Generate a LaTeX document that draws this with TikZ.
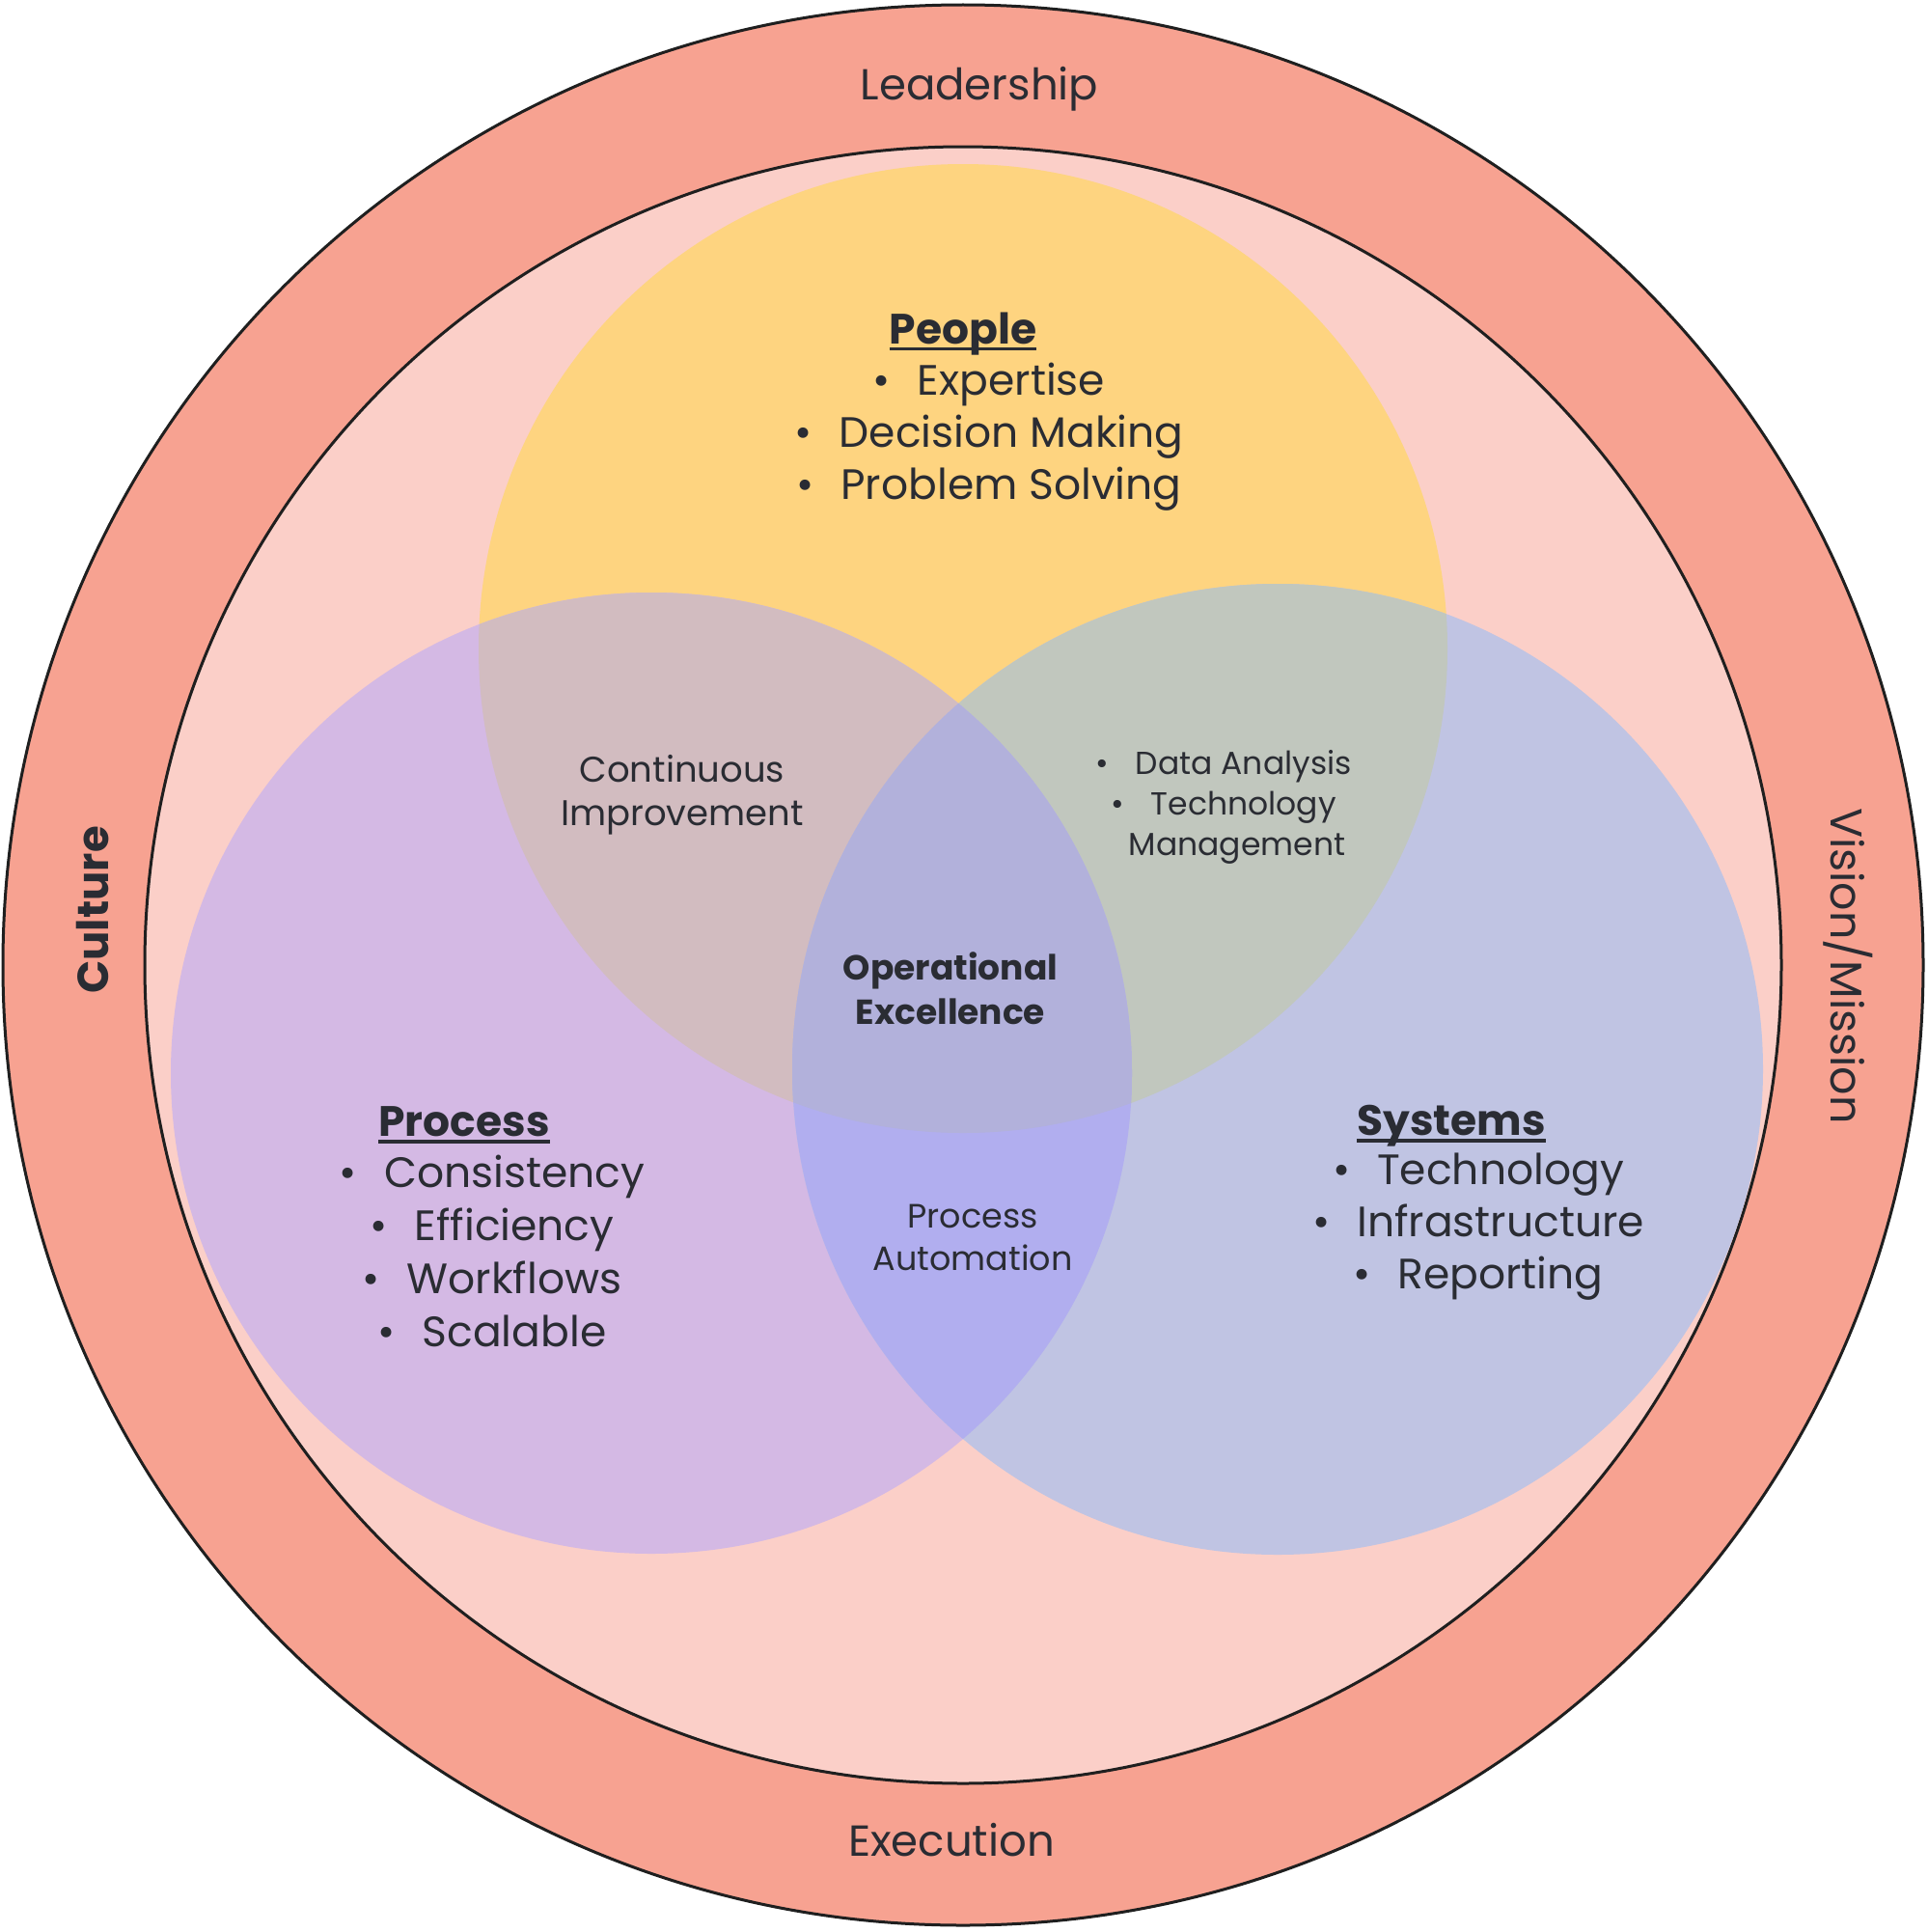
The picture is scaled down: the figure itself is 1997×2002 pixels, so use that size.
\documentclass[tikz,border=0pt]{standalone}
\usepackage{fontspec}
\setmainfont{Poppins}
\definecolor{ringc}{HTML}{F7A291}
\definecolor{innerc}{HTML}{FBCFC8}
\definecolor{peoplec}{HTML}{FED480}
\definecolor{processc}{HTML}{D4B9E4}
\definecolor{systemsc}{HTML}{C0C4E3}
\definecolor{ppc}{HTML}{D2BCC0}
\definecolor{psc}{HTML}{C1C7BE}
\definecolor{rsc}{HTML}{B1AEEF}
\definecolor{allc}{HTML}{B2B1DB}
\definecolor{ink}{HTML}{2A2C33}
\newcommand\ultitle[1]{\setbox0\hbox{#1}\rlap{\rule[-7pt]{\wd0}{3.5pt}}\box0}
\newcommand\bul{\textbullet\hspace{28pt}}
\tikzset{
  txt/.style={text=ink, inner sep=0pt, align=center},
  ringtxt/.style={txt, font=\fontsize{45}{54}\selectfont},
  bigtxt/.style={txt, font=\fontsize{44}{54}\selectfont},
  titletxt/.style={txt, font=\fontsize{44}{54}\selectfont\bfseries},
  midtxt/.style={txt, font=\fontsize{37}{45}\selectfont},
  smalltxt/.style={txt, font=\fontsize{33}{42}\selectfont},
  ring/.style={line width=3pt, draw=black!88}
}
\begin{document}
\begin{tikzpicture}[x=1pt,y=-1pt]
\useasboundingbox (0,0) rectangle (1997,2002);
\coordinate (c0) at (998,1000);
\coordinate (cP) at (998,672);
\coordinate (cR) at (675,1112);
\coordinate (cS) at (1324,1108);
% rings
\fill[ringc] (c0) circle (995pt);
\draw[ring] (c0) circle (995pt);
\fill[innerc] (c0) circle (848pt);
\draw[ring] (c0) circle (848pt);
% venn circles
\fill[peoplec] (cP) circle (502pt);
\fill[processc] (cR) circle (498pt);
\fill[systemsc] (cS) circle (503pt);
\begin{scope}
  \clip (cP) circle (502pt);
  \fill[ppc] (cR) circle (498pt);
  \fill[psc] (cS) circle (503pt);
\end{scope}
\begin{scope}
  \clip (cR) circle (498pt);
  \fill[rsc] (cS) circle (503pt);
\end{scope}
\begin{scope}
  \clip (cP) circle (502pt);
  \clip (cR) circle (498pt);
  \fill[allc] (cS) circle (503pt);
\end{scope}
% ring labels
\node[ringtxt] (lead) at (1015,92) {Leadership};
\node[ringtxt] (exec) at (986,1907) {Execution};
\node[ringtxt, font=\fontsize{45}{54}\selectfont\bfseries, rotate=90] (cult) at (96,943) {Culture};
\node[ringtxt, font=\fontsize{46}{54}\selectfont, rotate=-90] (vis) at (1915,1001) {Vision/Mission};
% People
\node[titletxt] (peopleT) at (998,346) {\ultitle{People}};
\node[bigtxt, anchor=north] (peopleL) at (1025,376) {\bul Expertise\\ \bul Decision Making\\ \bul Problem Solving};
% Process
\node[titletxt] (processT) at (481,1166) {\ultitle{Process}};
\node[bigtxt, font=\fontsize{44}{55}\selectfont, anchor=north] (processL) at (510,1197) {\bul Consistency\\ \bul Efficiency\\ \bul Workflows\\ \bul Scalable};
% Systems
\node[titletxt] (systemsT) at (1504,1167) {\ultitle{Systems}};
\node[bigtxt, anchor=north] (systemsL) at (1532,1195) {\bul Technology\\ \bul Infrastructure\\ \bul Reporting};
% overlaps
\node[midtxt] (ci) at (707,824) {Continuous\\Improvement};
\node[smalltxt, anchor=north] (da) at (1268,777) {\bul Data Analysis\\ \bul Technology\\ \hspace*{28pt}Management};
\node[midtxt, font=\fontsize{36}{46}\selectfont\bfseries] (oe) at (985,1024) {Operational\\Excellence};
\node[midtxt, font=\fontsize{35}{44}\selectfont] (pa) at (1008,1282) {Process\\Automation};
\end{tikzpicture}
\end{document}
